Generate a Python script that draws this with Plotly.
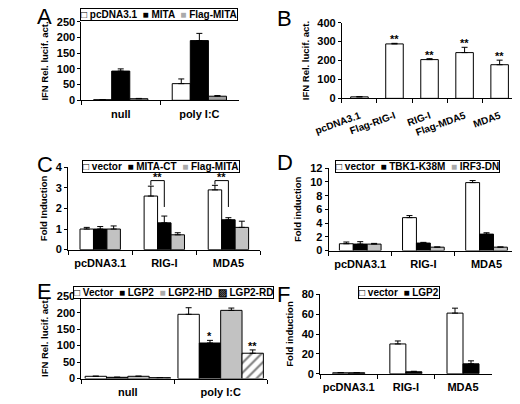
import plotly.graph_objects as go

FONT = "Liberation Sans, Arial, sans-serif"

# ---- data ----
# A: IFN-beta reporter, MITA over-expression
a_groups = ["null", "poly I:C"]
a_series = ["pcDNA3.1", "MITA", "Flag-MITA"]
a_values = [[2, 53], [93, 190], [5, 13]]
a_errors = [[0.5, 15], [7, 23], [1, 2]]

# B: RIG-I / MDA5 over-expression
b_groups = ["pcDNA3.1", "Flag-RIG-I", "RIG-I", "Flag-MDA5", "MDA5"]
b_values = [8, 288, 205, 242, 178]
b_errors = [1, 3, 5, 28, 24]
b_stars = ["", "**", "**", "**", "**"]

# C: MITA-CT
c_groups = ["pcDNA3.1", "RIG-I", "MDA5"]
c_series = ["vector", "MITA-CT", "Flag-MITA"]
c_values = [[1.0, 2.6, 2.9], [1.0, 1.3, 1.45], [1.0, 0.72, 1.08]]
c_errors = [[0.08, 0.48, 0.22], [0.12, 0.33, 0.1], [0.15, 0.1, 0.3]]

# D: TBK1 / IRF3 dominant negatives
d_groups = ["pcDNA3.1", "RIG-I", "MDA5"]
d_series = ["vector", "TBK1-K38M", "IRF3-DN"]
d_values = [[1.0, 4.8, 9.9], [0.95, 1.1, 2.4], [0.95, 0.5, 0.5]]
d_errors = [[0.25, 0.3, 0.3], [0.35, 0.1, 0.2], [0.1, 0.03, 0.03]]

# E: LGP2 mutants
e_groups = ["null", "poly I:C"]
e_series = ["Vector", "LGP2", "LGP2-HD", "LGP2-RD"]
e_values = [[7, 195], [4, 108], [7, 207], [3, 77]]
e_errors = [[0.5, 20], [0.3, 8], [0.5, 7], [0.3, 10]]
e_stars = [["", ""], ["", "*"], ["", ""], ["", "**"]]

# F: LGP2
f_groups = ["pcDNA3.1", "RIG-I", "MDA5"]
f_series = ["vector", "LGP2"]
f_values = [[1, 30, 61], [1, 2, 10]]
f_errors = [[0.2, 3, 5], [0.2, 0.5, 3]]

# the page body has an 8px margin, so the figure is shrunk and shifted to fit the window
OFF = 8
W, H = 520 - OFF, 404 - OFF


def px_x(px):
    return (px - OFF) / W


def px_y(py):
    return 1 - (py - OFF) / H


WHITE = dict(color="white")
BLACK = dict(color="black")
GRAY = dict(color="#c2c2c2")
DGRAY = dict(color="#a0a0a0")
HATCH = dict(color="white", pattern=dict(shape="/", fgcolor="black", bgcolor="white", size=7, solidity=0.3))

fig = go.Figure()
annotations = []
star_notes = []


def bar_center(ci, i, n, w):
    return ci - n * w / 2 + (i + 0.5) * w


def add_bars(k, groups, series, values, errors, styles, w):
    n = len(series)
    for i, name in enumerate(series):
        fig.add_trace(go.Bar(
            x=groups, y=values[i], name=name, width=w, offset=-n * w / 2 + i * w,
            marker=dict(**styles[i], line=dict(color="black", width=1)),
            error_y=dict(type="data", array=errors[i], arrayminus=[0] * len(groups),
                         symmetric=False, color="black", thickness=1, width=3),
            xaxis="x" + k, yaxis="y" + k, showlegend=False,
        ))


def star(k, x, y, text):
    star_notes.append(dict(x=x, y=y, xref="x" + k, yref="y" + k, text=text, showarrow=False,
                           yanchor="bottom", yshift=-4,
                           font=dict(family=FONT, size=11, weight="bold", color="black")))


def legend_box(px, py, names, glyphs):
    parts = [g + " " + nm for g, nm in zip(glyphs, names)]
    annotations.append(dict(
        x=px_x(px), y=px_y(py), xref="paper", yref="paper", text="  ".join(parts),
        showarrow=False, xanchor="center", yanchor="middle", bgcolor="white",
        bordercolor="black", borderwidth=1, borderpad=0,
        font=dict(family=FONT, size=10, weight="bold", color="black")))


SQ_W = "□"
SQ_B = "■"
SQ_G = "<span style='color:#aaaaaa'>■</span>"
SQ_H = "▨"

add_bars("", a_groups, a_series, a_values, a_errors, [WHITE, BLACK, DGRAY], 0.23)
fig.add_trace(go.Bar(x=b_groups, y=b_values, width=0.5, marker=dict(color="white", line=dict(color="black", width=1)),
                     error_y=dict(type="data", array=b_errors, arrayminus=[0] * len(b_groups), symmetric=False,
                                  color="black", thickness=1, width=3),
                     xaxis="x2", yaxis="y2", showlegend=False))
add_bars("3", c_groups, c_series, c_values, c_errors, [WHITE, BLACK, GRAY], 0.21)
add_bars("4", d_groups, d_series, d_values, d_errors, [WHITE, BLACK, GRAY], 0.22)
add_bars("5", e_groups, e_series, e_values, e_errors, [WHITE, BLACK, GRAY, HATCH], 0.23)
add_bars("6", f_groups, f_series, f_values, f_errors, [WHITE, BLACK], 0.28)

for ci, s in enumerate(b_stars):
    if s:
        star("2", ci, b_values[ci] + b_errors[ci], s)
for i in range(len(e_series)):
    for ci, s in enumerate(e_stars[i]):
        if s:
            star("5", bar_center(ci, i, 4, 0.23), e_values[i][ci] + e_errors[i][ci], s)

# significance brackets in C (vector vs MITA-CT)
BRACKET_TOP = 3.35
BRACKET_LOW = 2.07
shapes = []
for ci in (1, 2):
    x0 = bar_center(ci, 0, 3, 0.21)
    x1 = bar_center(ci, 1, 3, 0.21)
    y0 = c_values[0][ci] + c_errors[0][ci] + 0.04
    shapes.append(dict(type="path", xref="x3", yref="y3",
                       path=f"M {x0},{y0} L {x0},{BRACKET_TOP} L {x1},{BRACKET_TOP} L {x1},{BRACKET_LOW}",
                       line=dict(color="black", width=1)))
    star("3", (x0 + x1) / 2, BRACKET_TOP, "**")

legend_box(139, 8, a_series, [SQ_W, SQ_B, SQ_G])
legend_box(141.5, 165, c_series, [SQ_W, SQ_B, SQ_G])
legend_box(412, 165, d_series, [SQ_W, SQ_B, SQ_G])
legend_box(154.5, 295, e_series, [SQ_W, SQ_B, SQ_G, SQ_H])
legend_box(392.5, 295, f_series, [SQ_W, SQ_B])

for letter, px, py in [("A", 8, 11), ("B", 261, 13), ("C", 8, 163), ("D", 261, 161), ("E", 8, 294), ("F", 261, 297)]:
    annotations.append(dict(x=px_x(px), y=px_y(py), xref="paper", yref="paper", text=letter,
                            showarrow=False, xanchor="left", yanchor="middle",
                            font=dict(family=FONT, size=22, color="black")))

tick_font = dict(family=FONT, size=11, weight="bold", color="black")
title_font = dict(family=FONT, size=9.5, weight="bold", color="black")

# panel pixel boxes (window pixels): left, right, top, bottom
boxes = {
    "": (57, 223, 16, 97),
    "2": (332, 517, 17, 95),
    "3": (43, 246, 166, 251),
    "4": (318, 518, 167, 252),
    "5": (57, 253, 299, 384),
    "6": (309, 490, 297, 379),
}
yspec = {
    "": (250, 50, "IFN Rel. lucif. act.", a_groups),
    "2": (400, 100, "IFN Rel. lucif. act.", b_groups),
    "3": (4, 1, "Fold Induction", c_groups),
    "4": (12, 2, "Fold induction", d_groups),
    "5": (250, 50, "IFN Rel. lucif. act.", e_groups),
    "6": (80, 20, "Fold induction", f_groups),
}

layout_axes = {}
for k, (l, r, t, b) in boxes.items():
    top, dt, title, groups = yspec[k]
    layout_axes["xaxis" + k] = dict(
        domain=[px_x(l), min(px_x(r), 1)], anchor="y" + k, type="category", range=[-0.5, len(groups) - 0.5],
        showline=True, linecolor="black", linewidth=1, ticks="outside", tickson="boundaries",
        ticklen=4, tickcolor="black", ticklabelstandoff=7 if k == "2" else 3,
        tickfont=dict(tick_font, size=10) if k == "2" else tick_font,
        tickangle=-20 if k == "2" else 0, showgrid=False, zeroline=False)
    layout_axes["yaxis" + k] = dict(
        domain=[px_y(b), min(px_y(t), 1)], anchor="x" + k, range=[0, top], dtick=dt,
        showline=True, linecolor="black", linewidth=1, ticks="outside", ticklen=3,
        tickcolor="black", tickfont=tick_font, showgrid=False, zeroline=False,
        title=dict(text=title, font=title_font, standoff=6))

fig.update_layout(
    width=W, height=H, margin=dict(l=0, r=0, t=0, b=0),
    paper_bgcolor="white", plot_bgcolor="white", barmode="overlay",
    font=dict(family=FONT, color="black"),
    annotations=annotations + star_notes, shapes=shapes, **layout_axes)

fig.write_html("out.html")
